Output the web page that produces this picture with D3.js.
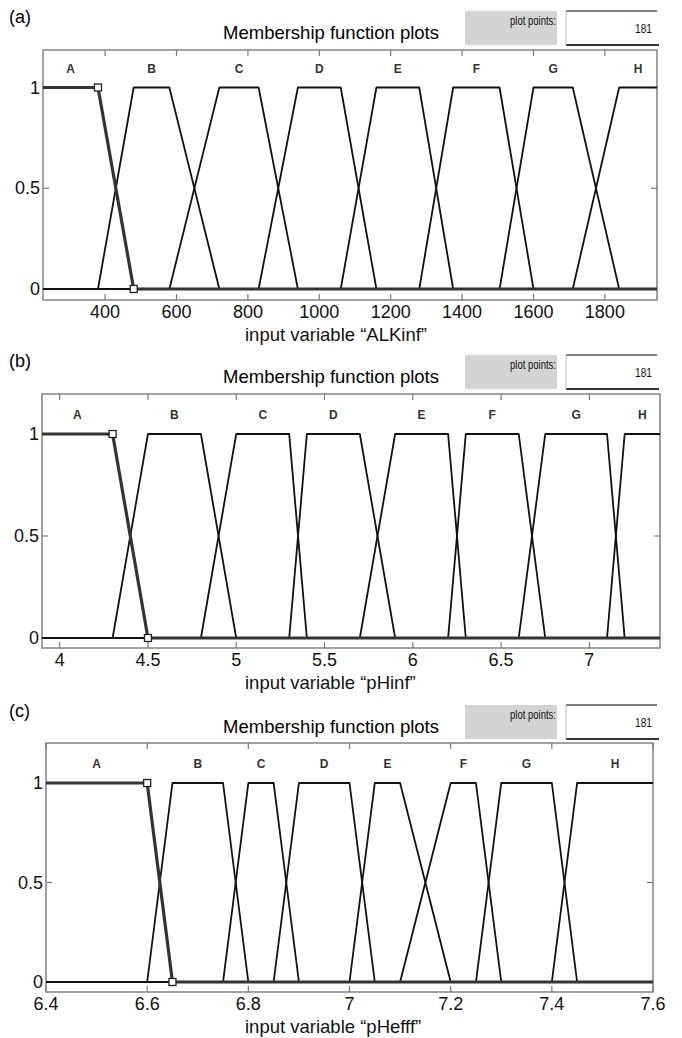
<!DOCTYPE html>
<html>
<head>
<meta charset="utf-8">
<script src="https://cdn.jsdelivr.net/npm/d3@7"></script>
<style>
  body { margin: 0; background: #fff; }
  svg { display: block; font-family: "Liberation Sans", Arial, sans-serif; }
</style>
</head>
<body>
<svg id="svg" width="682" height="1038"></svg>
<script>

// membership function names (same for the three inputs)
var mfNames = ["A", "B", "C", "D", "E", "F", "G", "H"];

// trapezoid break points
// MF k uses breaks [2k-2 .. 2k+1]; A and H run to the range ends
var alkBreaks   = [380, 480, 580, 720, 830, 940, 1060, 1160, 1280, 1375, 1505, 1600, 1710, 1840];
var phInfBreaks = [4.3, 4.5, 4.8, 5.0, 5.3, 5.4, 5.7, 5.9, 6.2, 6.3, 6.6, 6.75, 7.1, 7.2];
var phEffBreaks = [6.6, 6.65, 6.75, 6.8, 6.85, 6.9, 7.0, 7.05, 7.1, 7.2, 7.25, 7.3, 7.4, 7.45];

// variable ranges
var alkRange   = [226, 1946];
var phInfRange = [3.9, 7.4];
var phEffRange = [6.4, 7.6];

// tick values
var alkTicks   = [400, 600, 800, 1000, 1200, 1400, 1600, 1800];
var phInfTicks = [4, 4.5, 5, 5.5, 6, 6.5, 7];
var phEffTicks = [6.4, 6.6, 6.8, 7, 7.2, 7.4, 7.6];
var yTicks     = [0, 0.5, 1];

var varNames = ["ALKinf", "pHinf", "pHefff"];
var plotPoints = 181;

// layout of the three panels (pixels)
var panels = [
	{ tag: "(a)", name: varNames[0], breaks: alkBreaks, range: alkRange, ticks: alkTicks,
	  left: 43, right: 657, top: 50, bottom: 300, y1: 87.5, y0: 289, head: 11 },
	{ tag: "(b)", name: varNames[1], breaks: phInfBreaks, range: phInfRange, ticks: phInfTicks,
	  left: 42, right: 660, top: 394, bottom: 648, y1: 434, y0: 638, head: 355 },
	{ tag: "(c)", name: varNames[2], breaks: phEffBreaks, range: phEffRange, ticks: phEffTicks,
	  left: 46, right: 653, top: 743, bottom: 992, y1: 783, y0: 982, head: 705 }
];

var svg = d3.select("#svg");
var frameColor = "#7a7a7a";
var tickLen = 6;

// build the trapezoid for MF k
var trapezoid = function( b, r, k )
{
	var n = mfNames.length;
	if ( k == 0 )
		return [ [r[0],1], [b[0],1], [b[1],0], [r[1],0] ];
	if ( k == n-1 )
		return [ [r[0],0], [b[2*k-2],0], [b[2*k-1],1], [r[1],1] ];
	return [ [r[0],0], [b[2*k-2],0], [b[2*k-1],1], [b[2*k],1], [b[2*k+1],0], [r[1],0] ];
};

var plateauCenter = function( b, r, k )
{
	var n = mfNames.length;
	if ( k == 0 ) return (r[0] + b[0]) / 2;
	if ( k == n-1 ) return (b[2*k-1] + r[1]) / 2;
	return (b[2*k-1] + b[2*k]) / 2;
};

panels.forEach(function( p ) {

	var x = d3.scaleLinear().domain( p.range ).range( [p.left, p.right] );
	var y = d3.scaleLinear().domain( [0, 1] ).range( [p.y0, p.y1] );
	var g = svg.append("g");

	////////////////////////////
	// header: tag, title, plot points boxes

	g.append("text")
		.attr("x", 9).attr("y", p.head + 12)
		.attr("font-size", 18)
		.text( p.tag );

	g.append("text")
		.attr("x", 331).attr("y", p.head + 28)
		.attr("text-anchor", "middle")
		.attr("font-size", 18.5)
		.text("Membership function plots");

	g.append("rect")
		.attr("x", 465).attr("y", p.head)
		.attr("width", 92).attr("height", 34)
		.attr("fill", "#d3d3d3");

	g.append("text")
		.attr("x", 556).attr("y", p.head + 14)
		.attr("text-anchor", "end")
		.attr("font-size", 12.5)
		.attr("textLength", 46).attr("lengthAdjust", "spacingAndGlyphs")
		.attr("fill", "#111")
		.text("plot points:");

	g.append("rect")
		.attr("x", 566).attr("y", p.head)
		.attr("width", 91).attr("height", 34)
		.attr("fill", "#fff");
	g.append("line")
		.attr("x1", 566).attr("x2", 657).attr("y1", p.head).attr("y2", p.head)
		.attr("stroke", "#555").attr("stroke-width", 1.3);
	g.append("line")
		.attr("x1", 566).attr("x2", 659).attr("y1", p.head + 34).attr("y2", p.head + 34)
		.attr("stroke", "#333").attr("stroke-width", 2);
	g.append("line")
		.attr("x1", 566).attr("x2", 566).attr("y1", p.head).attr("y2", p.head + 34)
		.attr("stroke", "#bbb").attr("stroke-width", 1);

	g.append("text")
		.attr("x", 652).attr("y", p.head + 22)
		.attr("text-anchor", "end")
		.attr("font-size", 13.5)
		.attr("textLength", 17).attr("lengthAdjust", "spacingAndGlyphs")
		.attr("fill", "#111")
		.text( plotPoints );

	////////////////////////////
	// frame and ticks

	g.append("rect")
		.attr("x", p.left).attr("y", p.top)
		.attr("width", p.right - p.left).attr("height", p.bottom - p.top)
		.attr("fill", "none")
		.attr("stroke", frameColor).attr("stroke-width", 1.4);

	g.selectAll(".xtb").data( p.ticks ).enter().append("line")
		.attr("x1", function(d){ return x(d); }).attr("x2", function(d){ return x(d); })
		.attr("y1", p.bottom).attr("y2", p.bottom - tickLen)
		.attr("stroke", frameColor).attr("stroke-width", 1.2);

	g.selectAll(".xtt").data( p.ticks ).enter().append("line")
		.attr("x1", function(d){ return x(d); }).attr("x2", function(d){ return x(d); })
		.attr("y1", p.top).attr("y2", p.top + tickLen)
		.attr("stroke", frameColor).attr("stroke-width", 1.2);

	g.selectAll(".ytl").data( yTicks ).enter().append("line")
		.attr("x1", p.left).attr("x2", p.left + tickLen)
		.attr("y1", function(d){ return y(d); }).attr("y2", function(d){ return y(d); })
		.attr("stroke", frameColor).attr("stroke-width", 1.2);

	g.selectAll(".ytr").data( yTicks ).enter().append("line")
		.attr("x1", p.right).attr("x2", p.right - tickLen)
		.attr("y1", function(d){ return y(d); }).attr("y2", function(d){ return y(d); })
		.attr("stroke", frameColor).attr("stroke-width", 1.2);

	// tick labels
	g.selectAll(".xl").data( p.ticks ).enter().append("text")
		.attr("x", function(d){ return x(d); })
		.attr("y", p.bottom + 18)
		.attr("text-anchor", "middle")
		.attr("font-size", 18)
		.attr("fill", "#111")
		.text(function(d){ return String(d); });

	g.selectAll(".yl").data( yTicks ).enter().append("text")
		.attr("x", p.left - 3)
		.attr("y", function(d){ return y(d) + 6; })
		.attr("text-anchor", "end")
		.attr("font-size", 18)
		.attr("fill", "#111")
		.text(function(d){ return String(d); });

	g.append("text")
		.attr("x", 245).attr("y", p.bottom + 41)
		.attr("font-size", 18.5)
		.attr("fill", "#111")
		.text("input variable \u201C" + p.name + "\u201D");

	////////////////////////////
	// membership functions

	var line = d3.line()
		.x(function(d){ return x(d[0]); })
		.y(function(d){ return y(d[1]); });

	var mfs = mfNames.map(function( name, k ) {
		return { name: name, k: k, pts: trapezoid( p.breaks, p.range, k ) };
	});

	// unselected ones first, the selected A on top
	g.selectAll(".mf").data( mfs.slice(1) ).enter().append("path")
		.attr("d", function(d){ return line( d.pts ); })
		.attr("fill", "none")
		.attr("stroke", "#111")
		.attr("stroke-width", 1.8)
		.attr("stroke-linejoin", "round");

	g.append("path")
		.attr("d", line( mfs[0].pts ))
		.attr("fill", "none")
		.attr("stroke", "#333")
		.attr("stroke-width", 3.2);

	// square handles of the selected MF
	var handles = [ [p.breaks[0], 1], [p.breaks[1], 0] ];
	g.selectAll(".hd").data( handles ).enter().append("rect")
		.attr("x", function(d){ return x(d[0]) - 3.5; })
		.attr("y", function(d){ return y(d[1]) - 3.5; })
		.attr("width", 7).attr("height", 7)
		.attr("fill", "#fff")
		.attr("stroke", "#222").attr("stroke-width", 1.3);

	// MF names
	g.selectAll(".nm").data( mfs ).enter().append("text")
		.attr("x", function(d){ return x( plateauCenter( p.breaks, p.range, d.k ) ); })
		.attr("y", p.y1 - 15)
		.attr("text-anchor", "middle")
		.attr("font-size", 12)
		.attr("font-weight", "bold")
		.attr("fill", "#333")
		.text(function(d){ return d.name; });
});

</script>
</body>
</html>
